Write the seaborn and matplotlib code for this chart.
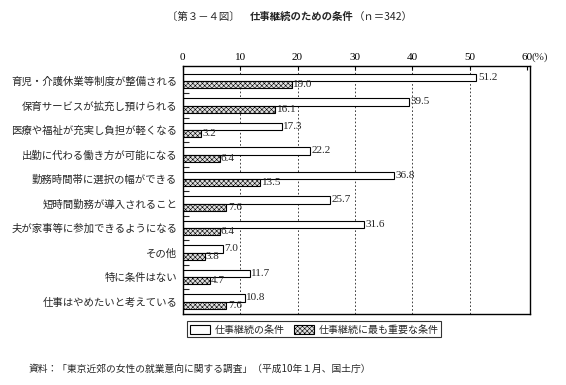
import matplotlib
matplotlib.use("Agg")
import matplotlib.pyplot as plt
import matplotlib.patches as mpatches
import seaborn as sns
import pandas as pd
import numpy as np

categories = [
    "育児・介護休業等制度が整備される",
    "保育サービスが拡充し預けられる",
    "医療や福祉が充実し負担が軽くなる",
    "出勤に代わる働き方が可能になる",
    "勤務時間帯に選択の幅ができる",
    "短時間勤務が導入されること",
    "夫が家事等に参加できるようになる",
    "その他",
    "特に条件はない",
    "仕事はやめたいと考えている",
]
cond_all = [51.2, 39.5, 17.3, 22.2, 36.8, 25.7, 31.6, 7.0, 11.7, 10.8]
cond_top = [19.0, 16.1, 3.2, 6.4, 13.5, 7.6, 6.4, 3.8, 4.7, 7.6]
series = ["仕事継続の条件", "仕事継続に最も重要な条件"]
xticks = [0, 10, 20, 30, 40, 50, 60]

df = pd.DataFrame({
    "cat": categories * 2,
    "val": cond_all + cond_top,
    "series": [series[0]] * len(categories) + [series[1]] * len(categories),
})

sns.set_theme(style="white")
plt.rcParams["font.family"] = ["Noto Sans CJK JP", "DejaVu Sans"]
plt.rcParams["hatch.linewidth"] = 0.4
plt.rcParams["hatch.color"] = "#6e6e6e"

fig = plt.figure(figsize=(5.66, 3.85), dpi=100)
ax = fig.add_axes([0.323, 0.185, 0.613, 0.644])

hatch_face = "#e0e0e0"
sns.barplot(data=df, y="cat", x="val", hue="series", orient="h",
            palette=["white", hatch_face], edgecolor="black", linewidth=0.8,
            width=0.6, gap=0, legend=False, ax=ax, zorder=2)

for bar in ax.containers[1]:
    bar.set_hatch("xxxxxxx")

num_font = ["Liberation Serif", "DejaVu Serif"]
for cont in ax.containers:
    ax.bar_label(cont, fmt="%.1f", padding=1, fontsize=8, family=num_font)

ax.set_xlim(0, 60.5)
ax.set_ylim(len(categories) - 0.5, -0.62)
ax.set_xlabel("")
ax.set_ylabel("")

# dashed vertical grid
for x in xticks[1:-1]:
    ax.axvline(x, color="#222222", lw=0.6, ls=(0, (2, 2.5)), zorder=1)

ax.xaxis.tick_top()
ax.set_xticks(xticks)
ax.set_xticklabels([str(t) for t in xticks], fontsize=8, family=num_font)
ax.tick_params(axis="x", direction="in", length=3, width=0.8, pad=3, colors="black")
ax.annotate("(%)", xy=(60.8, 1.0), xycoords=("data", "axes fraction"),
            xytext=(0, 3), textcoords="offset points", ha="left", va="bottom",
            fontsize=8, family=num_font)

ax.set_yticks(range(len(categories)))
ax.set_yticklabels(categories, fontsize=7.5)
ax.tick_params(axis="y", which="major", length=0, pad=4)
ax.set_yticks(np.arange(len(categories) - 1) + 0.5, minor=True)
ax.tick_params(axis="y", which="minor", direction="in", length=4, width=0.8, left=True)

for sp in ax.spines.values():
    sp.set_visible(True)
    sp.set_color("black")
    sp.set_linewidth(1.0)

handles = [
    mpatches.Patch(facecolor="white", edgecolor="black", lw=0.8, label=series[0]),
    mpatches.Patch(facecolor=hatch_face, edgecolor="black", lw=0.8, hatch="xxxxxxx", label=series[1]),
]
leg = fig.legend(handles=handles, loc="upper left", bbox_to_anchor=(0.322, 0.178),
                 ncol=2, fontsize=7.2, frameon=True, fancybox=False,
                 handlelength=2.0, handleheight=1.0, columnspacing=1.0,
                 borderpad=0.3, handletextpad=0.4)
leg.get_frame().set_edgecolor("black")
leg.get_frame().set_linewidth(0.8)

# title in three pieces, middle one bold
t1 = fig.text(0.295, 0.955, "〔第３－４図〕　", ha="left", va="center", fontsize=7.5)
t2 = ax.annotate("仕事継続のための条件", xy=(1, 0.5), xycoords=t1, ha="left", va="center",
                 fontsize=7.5, fontweight="bold", annotation_clip=False)
ax.annotate("（ｎ＝342）", xy=(1, 0.5), xycoords=t2, ha="left", va="center",
            fontsize=7.5, annotation_clip=False)

fig.text(0.05, 0.042, "資料：「東京近郊の女性の就業意向に関する調査」（平成10年１月、国土庁）",
         ha="left", va="center", fontsize=7)

fig.savefig("out.png", dpi=100)
